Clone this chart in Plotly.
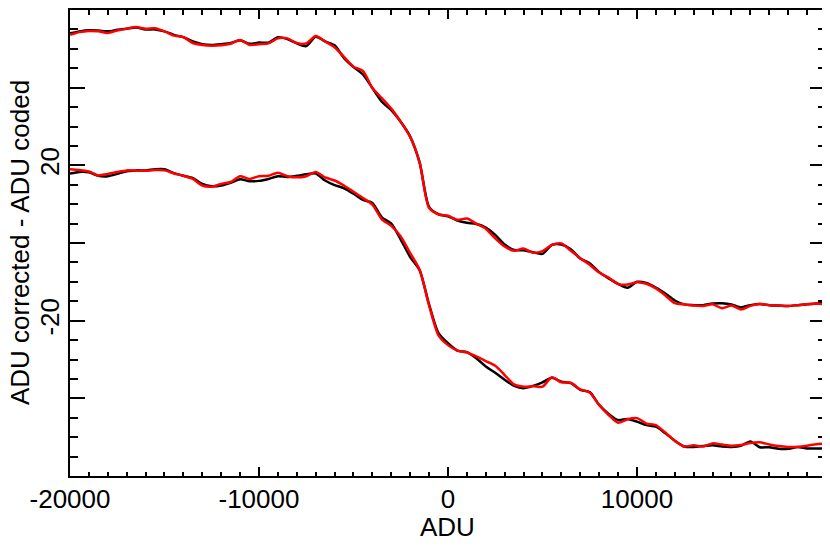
import plotly.graph_objects as go

# sample positions along the ADU axis
adu = [-20000, -19500, -19000, -18500, -18000, -17500, -17000, -16500, -16000, -15500,
       -15000, -14500, -14000, -13500, -13000, -12500, -12000, -11500, -11000, -10500,
       -10000, -9500, -9000, -8500, -8000, -7500, -7000, -6500, -6000, -5500,
       -5000, -4500, -4000, -3500, -3000, -2500, -2000, -1500, -1000, -500,
       0, 500, 1000, 1500, 2000, 2500, 3000, 3500, 4000, 4500,
       5000, 5500, 6000, 6500, 7000, 7500, 8000, 8500, 9000, 9500,
       10000, 10500, 11000, 11500, 12000, 12500, 13000, 13500, 14000, 14500,
       15000, 15500, 16000, 16500, 17000, 17500, 18000, 18500, 19000, 19500,
       19900]

upper_black = [54.0, 54.5, 54.8, 54.7, 54.5, 54.9, 55.2, 55.5, 55.0, 55.0,
               54.5, 53.6, 53.0, 51.9, 51.2, 51.0, 51.2, 51.5, 52.2, 51.3,
               51.6, 51.6, 53.0, 52.5, 51.4, 50.7, 53.1, 51.9, 50.9, 47.6,
               45.3, 43.4, 39.9, 36.4, 34.2, 31.2, 27.4, 20.7, 9.3, 7.4,
               6.9, 5.8, 5.2, 4.9, 4.0, 2.1, -0.4, -1.8, -1.9, -2.4,
               -2.8, -0.5, -0.4, -1.6, -4.0, -5.2, -7.5, -9.1, -10.5, -11.5,
               -10.0, -10.3, -11.5, -13.0, -14.8, -15.8, -16.0, -16.0, -15.6, -15.5,
               -15.8, -16.6, -16.0, -15.7, -16.0, -16.1, -16.2, -16.0, -15.8, -15.6,
               -15.4]

upper_red = [53.6, 54.3, 54.6, 54.5, 54.1, 54.7, 55.2, 55.6, 55.2, 55.3,
             54.5, 53.4, 53.0, 51.5, 51.0, 50.8, 50.9, 51.3, 52.3, 51.0,
             51.2, 51.4, 52.7, 52.7, 51.5, 51.4, 53.3, 51.9, 50.4, 47.9,
             45.4, 44.3, 39.9, 37.3, 34.6, 31.2, 27.3, 20.8, 9.0, 7.4,
             7.0, 6.0, 6.3, 5.0, 3.7, 1.2, -0.9, -2.0, -1.4, -2.5,
             -2.1, -0.5, -0.1, -2.0, -3.9, -5.6, -7.6, -8.9, -10.6, -10.7,
             -10.1, -10.5, -11.7, -13.5, -15.5, -15.8, -16.1, -16.2, -15.8, -16.8,
             -16.1, -17.1, -16.2, -15.7, -16.0, -16.1, -16.2, -16.0, -15.8, -15.6,
             -15.8]

lower_black = [17.9, 18.3, 18.2, 17.3, 17.2, 17.8, 18.5, 18.7, 18.7, 19.0,
               19.0, 18.0, 17.3, 16.7, 15.2, 14.6, 14.8, 15.5, 16.4, 15.9,
               16.0, 16.5, 17.2, 17.0, 17.3, 17.7, 17.9, 16.1, 14.9, 14.1,
               12.7, 11.1, 10.3, 6.6, 5.0, 0.9, -3.6, -7.0, -15.8, -23.2,
               -25.8, -27.7, -28.1, -29.7, -31.8, -33.4, -35.2, -36.8, -37.4, -36.8,
               -35.9, -34.7, -35.7, -36.1, -37.8, -38.4, -41.7, -44.0, -45.6, -45.3,
               -46.0, -46.9, -47.3, -49.0, -50.9, -52.4, -52.5, -52.3, -52.1, -52.4,
               -52.5, -52.2, -51.1, -52.6, -52.6, -53.0, -53.0, -52.5, -52.9, -52.9,
               -52.9]

lower_red = [19.0, 18.8, 18.4, 17.4, 17.8, 18.3, 18.7, 18.6, 18.6, 18.8,
             18.7, 17.9, 17.3, 16.5, 14.8, 14.5, 15.2, 15.7, 17.2, 16.5,
             17.2, 17.3, 18.1, 17.2, 16.9, 17.2, 18.3, 16.9, 16.1, 14.8,
             13.2, 11.6, 9.9, 6.1, 4.4, 1.7, -2.6, -6.9, -16.1, -23.8,
             -26.3, -27.7, -28.2, -29.2, -30.4, -31.6, -34.0, -36.4, -37.0, -36.9,
             -37.0, -34.6, -35.9, -36.0, -37.7, -38.5, -41.7, -44.3, -46.3, -45.4,
             -45.1, -46.5, -46.9, -48.8, -50.9, -52.4, -52.1, -52.4, -51.6, -51.9,
             -52.2, -52.0, -51.5, -51.3, -51.9, -52.3, -52.5, -52.5, -52.2, -51.8,
             -51.7]

x_tickvals = [-20000, -10000, 0, 10000]
x_ticktext = ["-20000", "-10000", "0", "10000"]
y_tickvals = [-40, -20, 0, 20, 40]
y_ticktext = ["", "-20", "", "20", ""]

FONT = "Liberation Sans, Arial, Helvetica, sans-serif"


def add_curve(fig, y, color):
    fig.add_trace(go.Scatter(x=adu, y=y, mode='lines', hoverinfo='skip',
                             line=dict(color=color, width=2.5, shape='spline', smoothing=0.7)))


fig = go.Figure()
add_curve(fig, upper_black, 'black')
add_curve(fig, lower_black, 'black')
add_curve(fig, upper_red, 'red')
add_curve(fig, lower_red, 'red')

# axis titles as annotations so they sit exactly where the original has them
fig.add_annotation(text='ADU', xref='paper', yref='paper', x=0.5, y=0,
                   xanchor='center', yanchor='middle', yshift=-51, showarrow=False)
fig.add_annotation(text='ADU corrected - ADU coded', xref='paper', yref='paper', x=0, y=0.5,
                   xanchor='center', yanchor='middle', xshift=-50, textangle=-90,
                   height=24, borderpad=0, showarrow=False)

# the page body adds an 8px margin, so the figure is sized to fit the window
fig.update_layout(
    width=822, height=546,
    margin=dict(l=62, r=5, t=2, b=78),
    plot_bgcolor='white', paper_bgcolor='white',
    showlegend=False,
    font=dict(family=FONT, size=26, color='black'),
    xaxis=dict(range=[-20000, 19950], showgrid=False, zeroline=False, automargin=False,
               showline=True, linecolor='black', linewidth=2, mirror='ticks',
               ticks='inside', ticklen=9, tickwidth=2, tickcolor='black',
               tickvals=x_tickvals, ticktext=x_ticktext,
               minor=dict(ticks='inside', ticklen=4.5, tickwidth=2, tickcolor='black', dtick=1000),
               ticklabelstandoff=-1),
    yaxis=dict(range=[-60, 60], showgrid=False, zeroline=False, automargin=False,
               showline=True, linecolor='black', linewidth=2, mirror='ticks',
               ticks='inside', ticklen=15, tickwidth=2, tickcolor='black',
               tickvals=y_tickvals, ticktext=y_ticktext, tickangle=-90,
               minor=dict(ticks='inside', ticklen=7.5, tickwidth=2, tickcolor='black', dtick=5),
               ticklabelstandoff=-1),
)

fig.write_html("out.html")
